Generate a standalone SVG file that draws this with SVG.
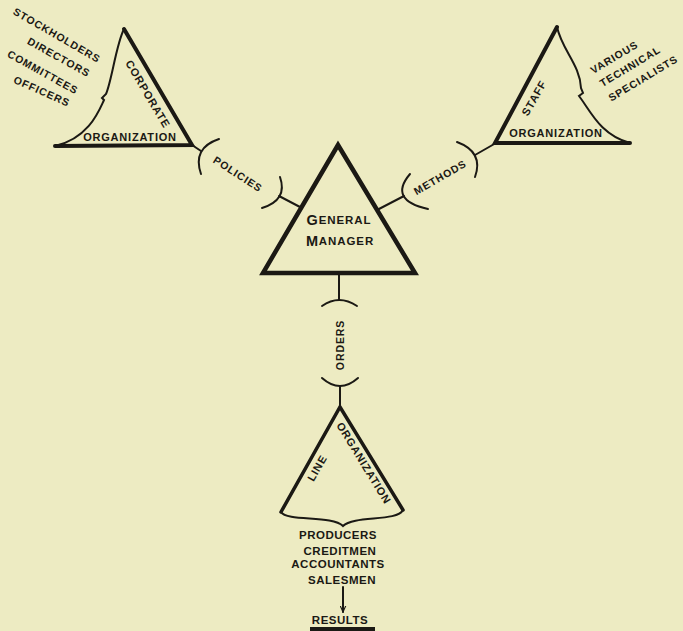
<svg xmlns="http://www.w3.org/2000/svg" width="683" height="631" viewBox="0 0 683 631">
<style>
.t{font-family:"Liberation Sans",Arial,sans-serif;font-weight:bold;fill:#1b1914;text-anchor:middle;dominant-baseline:central}
.s{font-size:10.5px;letter-spacing:0.9px}
.o{font-size:11px;letter-spacing:0.8px}
.edge{fill:none;stroke:#1b1914;stroke-linejoin:miter;stroke-linecap:round}
.thin{fill:none;stroke:#1b1914;stroke-width:2;stroke-linecap:round}
.m{font-size:11.5px;letter-spacing:0.5px}
</style>
<defs>
<marker id="ah" viewBox="0 0 10 10" refX="9" refY="5" markerWidth="7" markerHeight="7" orient="auto" markerUnits="userSpaceOnUse">
<path d="M0,1 L9,5 L0,9" fill="none" stroke="#1b1914" stroke-width="1.6"/>
</marker>
</defs>
<rect width="683" height="631" fill="#edebc2"/>

<g id="connectors">
<path class="thin" d="M192,145 L201,151"/>
<path class="thin" d="M219,139 Q192,148 201,174"/>
<path class="thin" d="M280,177 Q288,200 262,208"/>
<path class="thin" d="M279,196 L300,207"/>
<path class="thin" d="M377,210 L404,196"/>
<path class="thin" d="M410,174 Q388,200 428,209"/>
<path class="thin" d="M457,142 Q484,152 475,177"/>
<path class="thin" d="M475,155 L496,143"/>
<path class="thin" d="M339,275 L339,300"/>
<path class="thin" d="M322,306 Q339,294 357,306"/>
<path class="thin" d="M322,378 Q340,394 358,378"/>
<path class="thin" d="M340,386 L340,407"/>
<path class="thin" d="M343,587 L343,612" stroke-width="1.6" marker-end="url(#ah)"/>
</g>

<g id="corporate">
<path class="edge" stroke-width="4" d="M124,29 L192,145 L55,146"/>
<path class="thin" d="M124,29 C116,45 112,80 106,94 L102,98 L104,100 C100,108 90,138 55,146"/>
<text class="t o" letter-spacing="1.3" transform="translate(148,94) rotate(59.5)">CORPORATE</text>
<text class="t o" x="130" y="137">ORGANIZATION</text>
</g>

<g id="corporate-members">
<text class="t s" transform="translate(57,35) rotate(30)">STOCKHOLDERS</text>
<text class="t s" transform="translate(59,57) rotate(29)">DIRECTORS</text>
<text class="t s" transform="translate(43,72) rotate(29)">COMMITTEES</text>
<text class="t s" transform="translate(42,91) rotate(24)">OFFICERS</text>
</g>

<g id="staff">
<path class="edge" stroke-width="4" d="M557,27 L495,143 L630,143"/>
<path class="thin" d="M557,27 C562,50 580,65 581,88 L583,93 L579,96 C590,110 600,135 630,143"/>
<text class="t o" letter-spacing="1.3" transform="translate(534,98) rotate(-60)">STAFF</text>
<text class="t o" x="556" y="133">ORGANIZATION</text>
</g>

<g id="staff-members">
<text class="t s" transform="translate(614,57) rotate(-31)">VARIOUS</text>
<text class="t s" transform="translate(630,66) rotate(-31)">TECHNICAL</text>
<text class="t s" transform="translate(643,78) rotate(-31)">SPECIALISTS</text>
</g>

<g id="policies">
<text class="t s" transform="translate(238,174) rotate(33)">POLICIES</text>
</g>

<g id="methods">
<text class="t s" transform="translate(440,177) rotate(-30)">METHODS</text>
</g>

<g id="general-manager">
<path class="edge" stroke-width="4.5" d="M338,145 L415,273 L263,273 Z"/>
<text class="t" x="339" y="220" letter-spacing="0.9"><tspan font-size="14.5">G</tspan><tspan font-size="11.5">ENERAL</tspan></text>
<text class="t" x="340" y="241" letter-spacing="0.9"><tspan font-size="14.5">M</tspan><tspan font-size="11.5">ANAGER</tspan></text>
</g>

<g id="orders">
<text class="t s" font-size="11" letter-spacing="1.2" transform="translate(340,345) rotate(-90)">ORDERS</text>
</g>

<g id="line">
<path class="edge" stroke-width="3.5" d="M281,512 L340,407 L403,510"/>
<path class="thin" d="M281,512 C287,522 332,515 343,526 C354,515 397,522 403,510"/>
<text class="t o" letter-spacing="1.3" transform="translate(317,468) rotate(-60)">LINE</text>
<text class="t o" transform="translate(364,463) rotate(58.5)">ORGANIZATION</text>
</g>

<g id="line-members">
<text class="t m" x="338" y="535">PRODUCERS</text>
<text class="t m" x="340" y="551">CREDITMEN</text>
<text class="t m" letter-spacing="0.2" x="338" y="564">ACCOUNTANTS</text>
<text class="t m" x="342" y="580">SALESMEN</text>
</g>

<g id="results">
<text class="t m" x="340" y="620">RESULTS</text>
<rect x="310" y="627" width="65" height="4" fill="#1b1914"/>
</g>
</svg>
